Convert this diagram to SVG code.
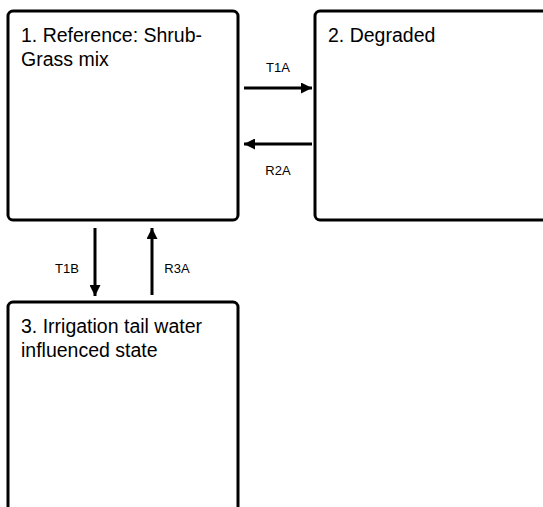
<svg xmlns="http://www.w3.org/2000/svg" width="543" height="507" viewBox="0 0 543 507">
<style>
.box{fill:#fff;stroke:#000;stroke-width:3}
.t{font-family:"Liberation Sans",Arial,sans-serif;font-size:19.5px;fill:#000}
.l{font-family:"Liberation Sans",Arial,sans-serif;font-size:13px;fill:#000;text-anchor:middle}
.c{stroke:#000;stroke-width:3;fill:none}
</style>
<defs>
<marker id="ah" viewBox="0 0 10 10" refX="10" refY="5" markerWidth="11" markerHeight="11" markerUnits="userSpaceOnUse" orient="auto">
<path d="M0,0 L10,5 L0,10 Z" fill="#000"/>
</marker>
</defs>
<rect width="543" height="507" fill="#fff"/>
<g id="node1">
<rect class="box" x="8" y="11" width="230" height="209" rx="5"/>
<text class="t" x="21" y="42">1. Reference: Shrub-</text>
<text class="t" x="21" y="66">Grass mix</text>
</g>
<g id="node2">
<rect class="box" x="315" y="11" width="240" height="209" rx="5"/>
<text class="t" x="328" y="42">2. Degraded</text>
</g>
<g id="node3">
<rect class="box" x="8" y="302" width="230" height="220" rx="5"/>
<text class="t" x="21" y="333">3. Irrigation tail water</text>
<text class="t" x="21" y="357">influenced state</text>
</g>
<g id="connectors">
<line class="c" x1="244" y1="88" x2="312" y2="88" marker-end="url(#ah)"/>
<line class="c" x1="312" y1="144" x2="244" y2="144" marker-end="url(#ah)"/>
<line class="c" x1="95" y1="228" x2="95" y2="296" marker-end="url(#ah)"/>
<line class="c" x1="152" y1="295" x2="152" y2="228" marker-end="url(#ah)"/>
<text class="l" x="278" y="72">T1A</text>
<text class="l" x="278" y="175">R2A</text>
<text class="l" x="67" y="273">T1B</text>
<text class="l" x="177" y="273">R3A</text>
</g>
</svg>
